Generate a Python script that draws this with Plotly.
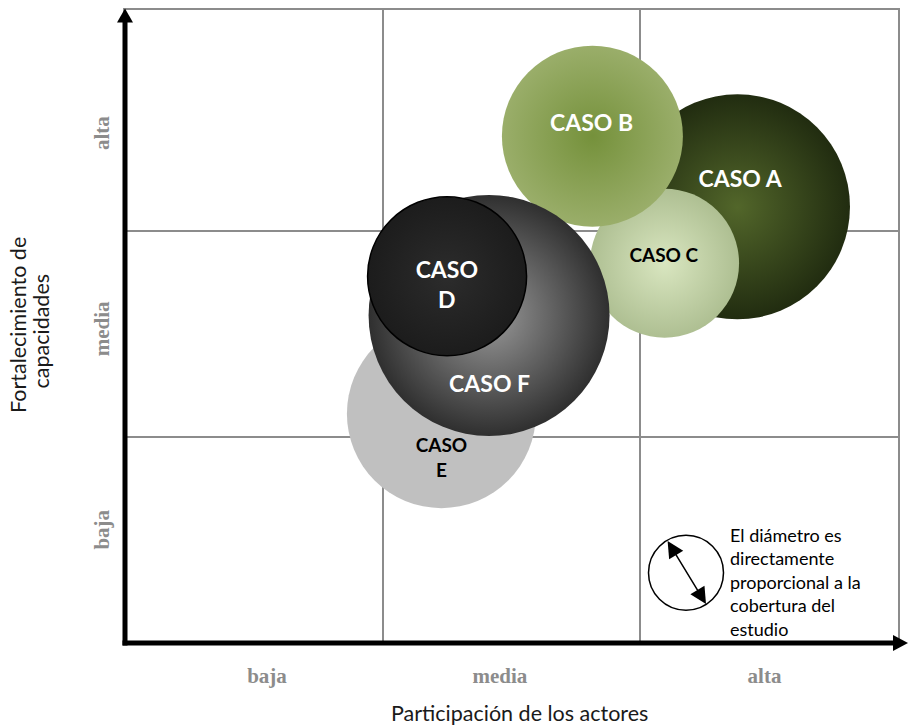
import plotly.graph_objects as go

# Cases: position on the two qualitative axes (0-3 scale) and study coverage (bubble diameter)
casos = ["CASO A", "CASO C", "CASO B", "CASO E", "CASO F", "CASO D"]
participacion = [2.377, 2.094, 1.814, 1.228, 1.413, 1.250]
capacidades = [2.119, 1.845, 2.462, 1.114, 1.591, 1.782]
cobertura = [225, 149, 181, 189, 241, 159]

# Label text and its placement inside each bubble
etiquetas = ["CASO A", "CASO C", "CASO B", "CASO<br>E", "CASO F", "CASO<br>D"]
etiqueta_x = [2.387, 2.091, 1.811, 1.228, 1.415, 1.249]
etiqueta_y = [2.245, 1.873, 2.517, 0.890, 1.249, 1.729]

# Axis category labels
niveles = ["baja", "media", "alta"]
niveles_x = [0.551, 1.455, 2.482]
niveles_y = [0.535, 1.511, 2.462]

borde = ["#212c10", "#aebf92", "#9aae6a", "#c0c0c0", "#2f2f2f", "#1c1c1c"]
centro = ["#52662a", "#d9e6c0", "#75913b", "#c0c0c0", "#9a9a9a", "#2c2c2c"]
contorno = [0, 0, 0, 0, 0, 1.5]
color_texto = ["white", "black", "white", "black", "white", "white"]
tam_texto = [23, 19, 23, 19, 23, 23]

GRIS = "#8c8c8c"
TXT_FONT = "Lato"

fig = go.Figure()

fig.add_trace(go.Scatter(
    x=participacion, y=capacidades, mode="markers",
    marker=dict(
        size=cobertura, sizemode="diameter", sizeref=1,
        color=borde, opacity=1,
        gradient=dict(type="radial", color=centro),
        line=dict(color="black", width=contorno),
    ),
    hoverinfo="text", hovertext=casos, showlegend=False,
))

fig.add_trace(go.Scatter(
    x=etiqueta_x, y=etiqueta_y, mode="text", text=etiquetas,
    textfont=dict(family=TXT_FONT, size=tam_texto, color=color_texto, weight="bold"),
    hoverinfo="skip", showlegend=False,
))

W, H = 908, 725
ML, MR, MT, MB = 125, 10, 8, 82
PW, PH = W - ML - MR, H - MT - MB


def px(xp):
    return (xp - ML) / PW


def py(yp):
    return (H - MB - yp) / PH


shapes = [
    # y axis shaft and arrowhead
    dict(type="line", xref="paper", yref="paper", x0=0, x1=0, y0=py(645.5), y1=py(19),
         line=dict(color="black", width=5), layer="above"),
    dict(type="path", xref="paper", yref="paper", xsizemode="pixel", ysizemode="pixel",
         xanchor=0, yanchor=py(6.5), path="M0,0 L-8,-14 L8,-14 Z",
         fillcolor="black", line=dict(width=0), layer="above"),
    # x axis shaft and arrowhead
    dict(type="line", xref="paper", yref="paper", x0=px(122.5), x1=px(895), y0=0, y1=0,
         line=dict(color="black", width=5), layer="above"),
    dict(type="path", xref="paper", yref="paper", xsizemode="pixel", ysizemode="pixel",
         xanchor=px(908), yanchor=0, path="M0,0 L-15,8 L-15,-8 Z",
         fillcolor="black", line=dict(width=0), layer="above"),
    # diameter key circle
    dict(type="circle", xref="paper", yref="paper", xsizemode="pixel", ysizemode="pixel",
         xanchor=px(686), yanchor=py(572.5), x0=-37.5, x1=37.5, y0=-37.5, y1=37.5,
         fillcolor="white", line=dict(color="black", width=1.5), layer="above"),
]

titulo = dict(family=TXT_FONT, size=21.5, color="#1a1a1a")

annotations = [
    dict(xref="paper", yref="paper", x=px(706), y=py(604), ax=-39.3, ay=-64.7,
         axref="pixel", ayref="pixel", text="", showarrow=True, arrowside="end+start",
         arrowhead=2, arrowsize=2.2, arrowwidth=1.5, arrowcolor="black"),
    dict(xref="paper", yref="paper", x=px(728), y=py(581.5), xanchor="left", yanchor="middle",
         align="left", showarrow=False,
         text="El diámetro es<br>directamente<br>proporcional a la<br>cobertura del<br>estudio",
         font=dict(family=TXT_FONT, size=18, color="black")),
    # x axis title
    dict(xref="paper", yref="paper", x=px(519), y=py(713), xanchor="center", yanchor="middle",
         showarrow=False, text="Participación de los actores", font=titulo),
    # y axis title, two rotated lines
    dict(xref="paper", yref="paper", x=px(17.5), y=py(324.5), xanchor="center", yanchor="middle",
         showarrow=False, textangle=-90, text="Fortalecimiento de", font=titulo),
    dict(xref="paper", yref="paper", x=px(40.5), y=py(330), xanchor="center", yanchor="middle",
         showarrow=False, textangle=-90, text="capacidades", font=titulo),
]

eje = dict(showline=True, mirror=True, linecolor=GRIS, linewidth=1.5,
           showgrid=False, zeroline=False, ticks="", fixedrange=True,
           tickfont=dict(family="Liberation Serif", size=21, color=GRIS, weight="bold"))

fig.update_layout(
    width=W, height=H,
    margin=dict(l=ML, r=MR, t=MT, b=MB),
    paper_bgcolor="white", plot_bgcolor="white",
    xaxis=dict(eje, range=[0, 3], tickvals=niveles_x, ticktext=niveles, ticklabelstandoff=13,
               minor=dict(tickvals=[1, 2], showgrid=True, gridcolor=GRIS, gridwidth=1.5, ticks="")),
    yaxis=dict(eje, range=[0, 3.075], tickvals=niveles_y, ticktext=niveles, tickangle=-90,
               ticklabelstandoff=6,
               minor=dict(tickvals=[1, 2], showgrid=True, gridcolor=GRIS, gridwidth=1.5, ticks="")),
    shapes=shapes, annotations=annotations,
)

fig.write_html("out.html")
